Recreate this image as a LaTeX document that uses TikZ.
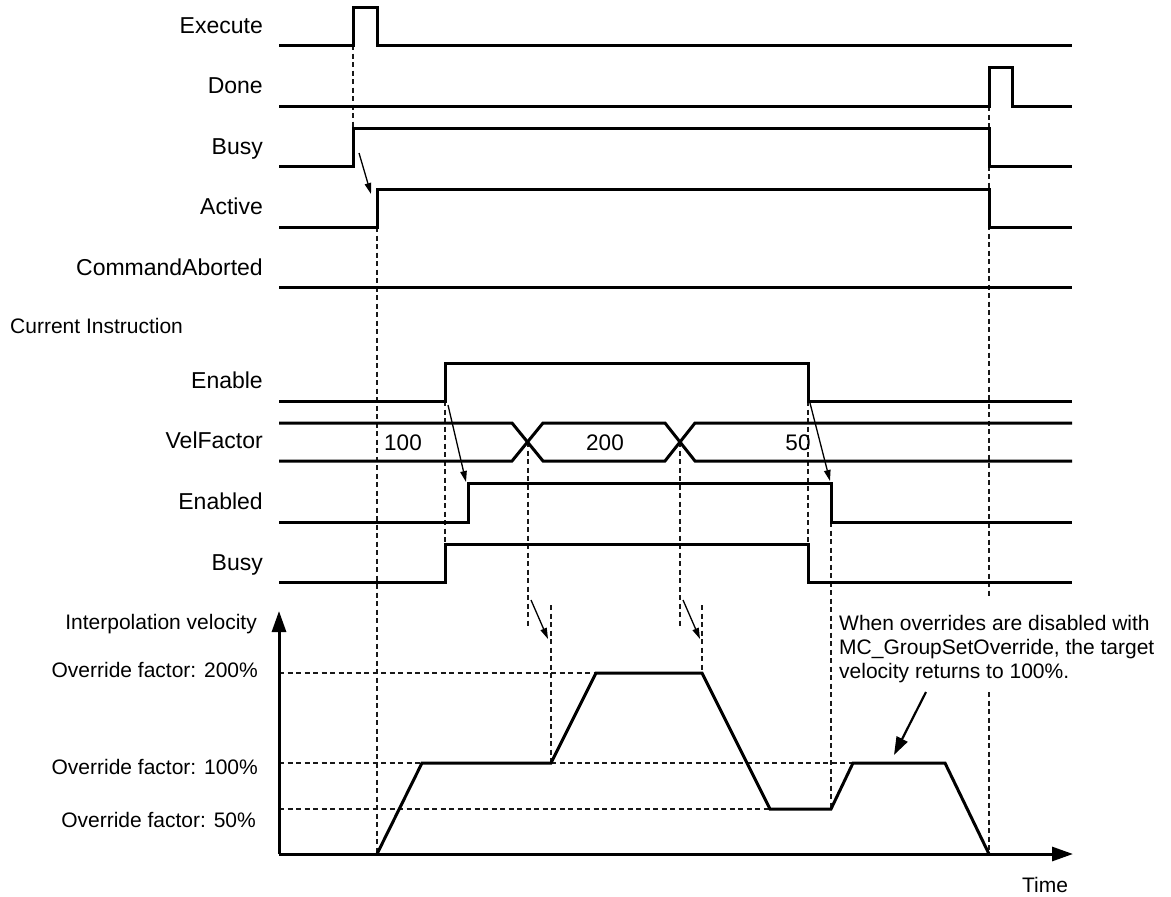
\documentclass[tikz,border=0pt]{standalone}
\usepackage{fontspec}
\setmainfont{Liberation Sans}
\usetikzlibrary{arrows.meta}
\begin{document}
\begin{tikzpicture}[x=1pt,y=-1pt,
  sig/.style={line width=3pt,line join=miter,line cap=butt},
  dsh/.style={line width=1.4pt,dash pattern=on 5pt off 3.5pt,black!90},
  thinarrow/.style={line width=1.3pt,-{Triangle[length=11pt,width=6.5pt]}},
  bigarrow/.style={line width=2.2pt,-{Triangle[length=18pt,width=12pt]}},
  axisarrow/.style={line width=3pt,-{Triangle[length=21pt,width=14pt]}},
  slabel/.style={anchor=base east,inner sep=0pt,font=\fontsize{23}{27}\selectfont},
  vlabel/.style={anchor=base east,inner sep=0pt,font=\fontsize{21}{25}\selectfont},
  nlabel/.style={anchor=base,inner sep=0pt,font=\fontsize{22.5}{27}\selectfont},
  note/.style={anchor=base west,inner sep=0pt,font=\fontsize{21}{25}\selectfont}]
\useasboundingbox (0,0) rectangle (1171,897);

% signal labels
\node[slabel] (lExecute) at (263,33) {Execute};
\node[slabel] (lDone) at (263,93) {Done};
\node[slabel] (lBusy) at (263,154) {Busy};
\node[slabel] (lActive) at (263,214) {Active};
\node[slabel] (lAborted) at (263,275) {CommandAborted};
\node[anchor=base west,inner sep=0pt,font=\fontsize{21}{25}\selectfont] (lCurrent) at (10,333) {Current Instruction};
\node[slabel] (lEnable) at (263,388) {Enable};
\node[slabel] (lVel) at (263,448) {VelFactor};
\node[slabel] (lEnabled) at (263,509) {Enabled};
\node[slabel] (lBusy2) at (263,570) {Busy};

% velocity labels
\node[vlabel] (lInterp) at (257,629) {Interpolation velocity};
\node[vlabel] (l200) at (258,677) {Override factor: 200\%};
\node[vlabel] (l100) at (258,774) {Override factor: 100\%};
\node[vlabel] (l50) at (256,827) {Override factor: 50\%};

% dashed guides
\draw[dsh] (353,45) -- (353,128);
\draw[dsh] (377,227) -- (377,854);
\draw[dsh] (445,401) -- (445,544);
\draw[dsh] (808,401) -- (808,544);
\draw[dsh] (528,442) -- (528,627);
\draw[dsh] (680,442) -- (680,627);
\draw[dsh] (551,605) -- (551,763);
\draw[dsh] (702,605) -- (702,673);
\draw[dsh] (831,522) -- (831,809);
\draw[dsh] (989,106) -- (989,598);
\draw[dsh] (989,692) -- (989,854);
\draw[dsh] (279,673) -- (596,673);
\draw[dsh] (279,763) -- (853,763);
\draw[dsh] (279,809) -- (770,809);

% signals
\draw[sig] (279,45) -- (353,45) -- (353,7) -- (377,7) -- (377,45) -- (1072,45);
\draw[sig] (279,106) -- (989,106) -- (989,67) -- (1012,67) -- (1012,106) -- (1072,106);
\draw[sig] (279,166) -- (353,166) -- (353,128) -- (989,128) -- (989,166) -- (1072,166);
\draw[sig] (279,227) -- (377,227) -- (377,189) -- (989,189) -- (989,227) -- (1072,227);
\draw[sig] (279,287) -- (1072,287);
\draw[sig] (279,401) -- (445,401) -- (445,363) -- (808,363) -- (808,401) -- (1072,401);
\draw[sig] (279,423) -- (512,423) -- (543,461) -- (665,461) -- (695,423) -- (1072,423);
\draw[sig] (279,461) -- (512,461) -- (543,423) -- (665,423) -- (695,461) -- (1072,461);
\draw[sig] (279,522) -- (468,522) -- (468,483) -- (831,483) -- (831,522) -- (1072,522);
\draw[sig] (279,582) -- (445,582) -- (445,544) -- (808,544) -- (808,582) -- (1072,582);

% bus values
\node[nlabel] (v100) at (403,450) {100};
\node[nlabel] (v200) at (605,450) {200};
\node[nlabel] (v50) at (798,450) {50};

% causal arrows
\coordinate (a1s) at (359,153); \coordinate (a1e) at (371,194);
\coordinate (a2s) at (448,405); \coordinate (a2e) at (466,482);
\coordinate (a3s) at (810,403); \coordinate (a3e) at (830,481);
\coordinate (a4s) at (531,600); \coordinate (a4e) at (548,639);
\coordinate (a5s) at (683,600); \coordinate (a5e) at (700,639);
\draw[thinarrow] (a1s) -- (a1e);
\draw[thinarrow] (a2s) -- (a2e);
\draw[thinarrow] (a3s) -- (a3e);
\draw[thinarrow] (a4s) -- (a4e);
\draw[thinarrow] (a5s) -- (a5e);

% axes
\coordinate (origin) at (279,854);
\coordinate (ytip) at (279,611);
\coordinate (xtip) at (1073,854);
\draw[axisarrow] (origin) -- (ytip);
\draw[axisarrow] (origin) -- (xtip);
\node[anchor=base,inner sep=0pt,font=\fontsize{21}{25}\selectfont] (lTime) at (1045,892) {Time};

% velocity profile
\draw[sig] (377,854) -- (422,763) -- (551,763) -- (596,673) -- (702,673) -- (770,809) -- (831,809) -- (853,763) -- (945,763) -- (989,854);

% annotation
\node[note] (n1) at (839,630) {When overrides are disabled with};
\node[note] (n2) at (839,654) {MC\_GroupSetOverride, the target};
\node[note] (n3) at (839,678) {velocity returns to 100\%.};
\coordinate (b1s) at (926,692); \coordinate (b1e) at (894,755);
\draw[bigarrow] (b1s) -- (b1e);
\end{tikzpicture}
\end{document}
